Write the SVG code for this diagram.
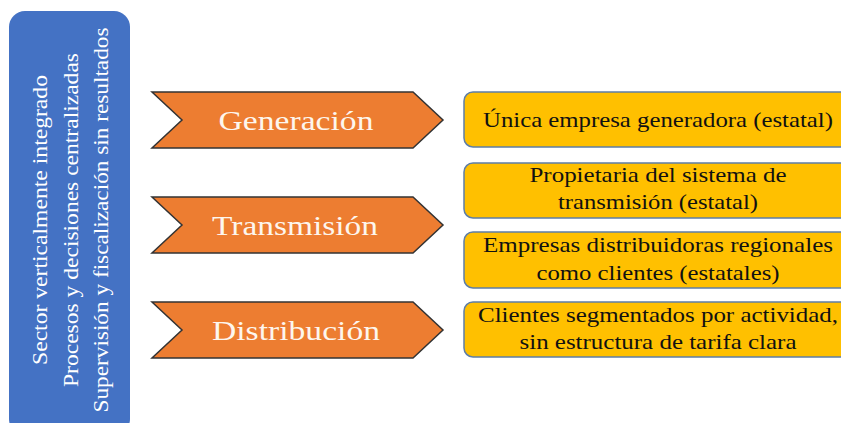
<svg xmlns="http://www.w3.org/2000/svg" width="841" height="423" viewBox="0 0 841 423">
<style>
.side{fill:#4472C4;}
.side-t{font-family:"Liberation Serif","Times New Roman",serif;font-size:21px;fill:#ffffff;text-anchor:middle;}
.chev{fill:#ED7D31;stroke:#333333;stroke-width:1.5;stroke-linejoin:miter;}
.chev-t{font-family:"Liberation Serif","Times New Roman",serif;font-size:28px;fill:#fdf6ee;text-anchor:middle;}
.box{fill:#FFC000;stroke:#5E7EA6;stroke-width:1.5;}
.box-t{font-family:"Liberation Serif","Times New Roman",serif;font-size:21px;fill:#111111;text-anchor:middle;}
</style>
<rect width="841" height="423" fill="#ffffff"/>
<g id="sidebar">
<rect class="side" x="9" y="11" width="121" height="424" rx="16" ry="16"/>
<text class="side-t" transform="translate(47,220) rotate(-90)" textLength="290" lengthAdjust="spacingAndGlyphs">Sector verticalmente integrado</text>
<text class="side-t" transform="translate(78,220) rotate(-90)" textLength="334" lengthAdjust="spacingAndGlyphs">Procesos y decisiones centralizadas</text>
<text class="side-t" transform="translate(108,220) rotate(-90)" textLength="385" lengthAdjust="spacingAndGlyphs">Supervisión y fiscalización sin resultados</text>
</g>
<g id="generacion">
<polygon class="chev" points="152,92 413,92 443,120 413,148 152,148 182,120"/>
<text class="chev-t" x="296" y="130" textLength="155" lengthAdjust="spacingAndGlyphs">Generación</text>
</g>
<g id="transmision">
<polygon class="chev" points="152,197 413,197 443,225 413,253 152,253 182,225"/>
<text class="chev-t" x="295" y="235" textLength="166" lengthAdjust="spacingAndGlyphs">Transmisión</text>
</g>
<g id="distribucion">
<polygon class="chev" points="152,302 413,302 443,330 413,358 152,358 182,330"/>
<text class="chev-t" x="296" y="340" textLength="168" lengthAdjust="spacingAndGlyphs">Distribución</text>
</g>
<g id="box-generadora">
<rect class="box" x="464" y="92" width="400" height="55" rx="9" ry="9"/>
<text class="box-t" x="658" y="127" textLength="350" lengthAdjust="spacingAndGlyphs">Única empresa generadora (estatal)</text>
</g>
<g id="box-propietaria">
<rect class="box" x="464" y="163" width="400" height="55" rx="9" ry="9"/>
<text class="box-t" x="658" y="182" textLength="257" lengthAdjust="spacingAndGlyphs">Propietaria del sistema de</text>
<text class="box-t" x="658" y="209" textLength="200" lengthAdjust="spacingAndGlyphs">transmisión (estatal)</text>
</g>
<g id="box-distribuidoras">
<rect class="box" x="464" y="232" width="400" height="56" rx="9" ry="9"/>
<text class="box-t" x="658" y="252" textLength="350" lengthAdjust="spacingAndGlyphs">Empresas distribuidoras regionales</text>
<text class="box-t" x="658" y="280" textLength="243" lengthAdjust="spacingAndGlyphs">como clientes (estatales)</text>
</g>
<g id="box-clientes">
<rect class="box" x="464" y="302" width="400" height="55" rx="9" ry="9"/>
<text class="box-t" x="658" y="322" textLength="360" lengthAdjust="spacingAndGlyphs">Clientes segmentados por actividad,</text>
<text class="box-t" x="658" y="349" textLength="277" lengthAdjust="spacingAndGlyphs">sin estructura de tarifa clara</text>
</g>
<g id="connectors"></g>
</svg>
